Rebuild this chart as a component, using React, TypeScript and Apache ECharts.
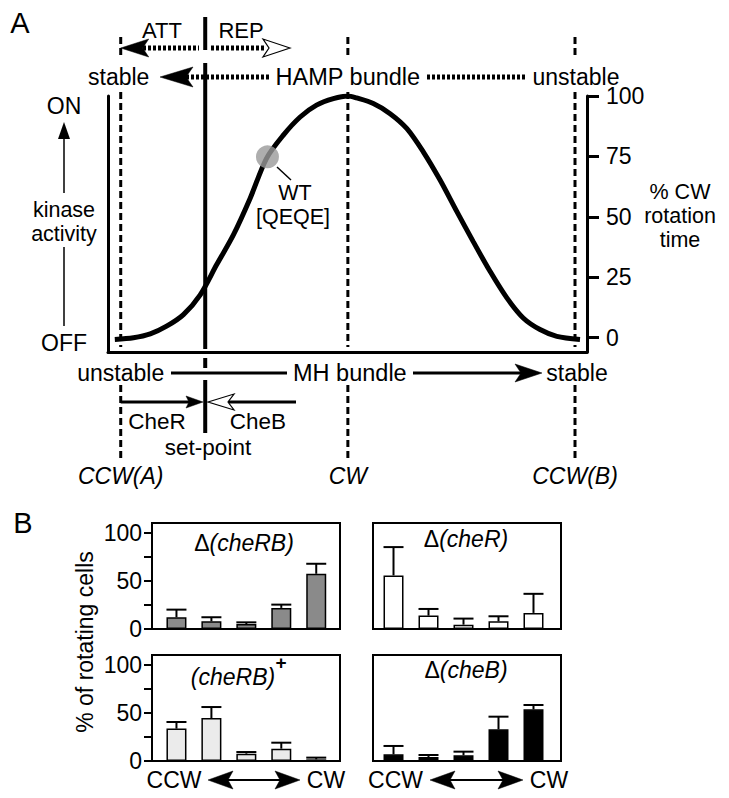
import React, { useEffect, useRef } from "react";
import * as echarts from "echarts";

const FONT = "'Liberation Sans', Arial, Helvetica, sans-serif";

// ---------- Panel A data ----------
const curveX = [-1.3, 2.8, 6.5, 10.1, 13.8, 17.5, 21.1, 24.8, 28.5, 32.1, 35.8, 39.5, 43.1, 46.8, 50, 51.9, 55.6, 59.3, 63.0, 66.6, 70.3, 74.0, 77.6, 81.3, 85.0, 88.6, 92.3, 96.0, 101.1];
const curveY = [-0.8, -0.1, 1.5, 4.7, 9.5, 17.7, 30.1, 42.5, 57.7, 74.2, 83.8, 91.3, 96.2, 98.9, 100, 99.2, 96.9, 92.7, 86.5, 76.9, 65.2, 52.1, 39.7, 27.4, 16.4, 8.1, 3.3, 0.5, -0.8];
const wtPoint = [32.3, 74.8];
const ccwAX = 0;
const cwX = 50;
const ccwBX = 100;
const setPointX = 18.6;
const rightTickValues = [0, 25, 50, 75, 100];

// ---------- Panel B data ----------
const barPositions = [1, 2, 3, 4, 5];
const cheRBMeans = [12.2, 8.0, 5.2, 21.9, 57.3];
const cheRBErrs = [7.9, 4.2, 1.7, 3.4, 10.4];
const cheRMeans = [55.6, 13.9, 4.5, 8.0, 16.7];
const cheRErrs = [29.4, 6.9, 6.3, 5.2, 19.8];
const cheRBPlusMeans = [33.6, 44.6, 7.6, 12.8, 1.7];
const cheRBPlusErrs = [6.9, 11.4, 1.7, 6.2, 1.8];
const cheBMeans = [6.9, 4.2, 5.9, 32.9, 53.6];
const cheBErrs = [8.7, 2.0, 3.8, 13.1, 4.5];
const bLabelValues = [0, 50, 100];
const bTickValues = [0, 25, 50, 75, 100];

export default function App() {
  const ref = useRef<HTMLDivElement>(null);

  useEffect(() => {
    if (!ref.current) return;
    const chart = echarts.init(ref.current, undefined, { renderer: "svg" });

    const panels = [
      { left: 152, top: 523, means: cheRBMeans, errs: cheRBErrs, color: "#8a8a8a", axis: true, xMin: 0.3, xMax: 5.68 },
      { left: 373, top: 523, means: cheRMeans, errs: cheRErrs, color: "#ffffff", axis: false, xMin: 0.414, xMax: 5.786 },
      { left: 152, top: 655, means: cheRBPlusMeans, errs: cheRBPlusErrs, color: "#ebebeb", axis: true, xMin: 0.3, xMax: 5.68 },
      { left: 373, top: 655, means: cheBMeans, errs: cheBErrs, color: "#000000", axis: false, xMin: 0.414, xMax: 5.786 },
    ];

    const grids: any[] = [{ left: 108, top: 96, width: 479, height: 256 }];
    const xAxes: any[] = [
      {
        gridIndex: 0, type: "value", min: -2.8, max: 102.64,
        axisLine: { show: true, onZero: false, lineStyle: { color: "#000", width: 3 } },
        axisTick: { show: false }, axisLabel: { show: false }, splitLine: { show: false },
      },
    ];
    const yAxes: any[] = [
      {
        gridIndex: 0, type: "value", min: -6, max: 100, position: "left",
        axisLine: { show: true, onZero: false, lineStyle: { color: "#000", width: 3 } },
        axisTick: { show: false }, axisLabel: { show: false }, splitLine: { show: false },
      },
      {
        gridIndex: 0, type: "value", min: -6, max: 100, position: "right",
        axisLine: { show: true, onZero: false, lineStyle: { color: "#000", width: 3 } },
        axisTick: { show: true, length: 12, lineStyle: { color: "#000", width: 3 }, customValues: rightTickValues },
        axisLabel: { show: true, customValues: rightTickValues, color: "#000", fontSize: 23, fontFamily: FONT, margin: 19 },
        splitLine: { show: false },
      },
    ];
    const series: any[] = [
      {
        type: "line", xAxisIndex: 0, yAxisIndex: 0, smooth: 0.3, showSymbol: false, symbol: "none",
        data: curveX.map((x, i) => [x, curveY[i]]),
        lineStyle: { color: "#000", width: 5 }, z: 3,
      },
      {
        type: "scatter", xAxisIndex: 0, yAxisIndex: 0, data: [wtPoint], symbolSize: 23,
        itemStyle: { color: "#9a9a9a" }, z: 4,
      },
    ];

    panels.forEach((p, k) => {
      const gi = k + 1;
      const xi = k + 1;
      const yi = k + 2;
      grids.push({ left: p.left, top: p.top, width: 188, height: 106, show: true, borderColor: "#000", borderWidth: 2, backgroundColor: "transparent" });
      xAxes.push({ gridIndex: gi, type: "value", min: p.xMin, max: p.xMax, show: false });
      yAxes.push({
        gridIndex: gi, type: "value", min: 0, max: 110, show: p.axis,
        axisLine: { show: true, onZero: false, lineStyle: { color: "#000", width: 2 } },
        axisTick: { show: true, length: 8, lineStyle: { color: "#000", width: 2 }, customValues: bTickValues },
        axisLabel: { show: true, customValues: bLabelValues, color: "#000", fontSize: 23, fontFamily: FONT, margin: 10 },
        splitLine: { show: false },
      });
      series.push({
        type: "bar", xAxisIndex: xi, yAxisIndex: yi, barWidth: 20,
        data: barPositions.map((x, i) => [x, p.means[i]]),
        itemStyle: { color: p.color, borderColor: "#000", borderWidth: 1.5 },
        z: 2,
      });
      series.push({
        type: "custom", xAxisIndex: xi, yAxisIndex: yi, coordinateSystem: "cartesian2d",
        data: barPositions.map((x, i) => [x, p.means[i], p.errs[i]]),
        encode: { x: 0, y: 1 },
        z: 3,
        renderItem: (params: any, api: any) => {
          const x = api.value(0), v = api.value(1), e = api.value(2);
          const p0 = api.coord([x, v]);
          const p1 = api.coord([x, v + e]);
          return {
            type: "group",
            children: [
              { type: "line", shape: { x1: p0[0], y1: p0[1], x2: p1[0], y2: p1[1] }, style: { stroke: "#000", lineWidth: 2 } },
              { type: "line", shape: { x1: p1[0] - 10, y1: p1[1], x2: p1[0] + 10, y2: p1[1] }, style: { stroke: "#000", lineWidth: 2 } },
            ],
          };
        },
      });
    });

    chart.setOption({
      animation: false,
      backgroundColor: "#ffffff",
      grid: grids,
      xAxis: xAxes,
      yAxis: yAxes,
      series,
    });

    const X = (v: number) => chart.convertToPixel({ xAxisIndex: 0 } as any, v) as unknown as number;
    const xA = X(ccwAX), xCW = X(cwX), xB = X(ccwBX), xSP = X(setPointX);

    const txt = (text: string, x: number, y: number, size = 23, extra: any = {}) => ({
      type: "text", silent: true, z: 100,
      style: {
        text, x, y, fill: "#000", fontSize: size, fontFamily: FONT,
        align: "center", verticalAlign: "middle", textAlign: "center", textVerticalAlign: "middle", ...extra,
      },
    });
    const ln = (x1: number, y1: number, x2: number, y2: number, w: number, dash?: number[]) => ({
      type: "line", silent: true, z: 50,
      shape: { x1, y1, x2, y2 },
      style: { stroke: "#000", lineWidth: w, lineDash: dash },
    });
    const head = (tx: number, ty: number, dir: number, L: number, h: number, notch: number, hollow = false) => ({
      type: "polygon", silent: true, z: 60,
      shape: { points: [[tx, ty], [tx - dir * L, ty - h], [tx - dir * (L - notch), ty], [tx - dir * L, ty + h]] },
      style: { fill: hollow ? "#fff" : "#000", stroke: "#000", lineWidth: hollow ? 1.2 : 0.5 },
    });
    const vhead = (tx: number, ty: number, L: number, h: number) => ({
      type: "polygon", silent: true, z: 60,
      shape: { points: [[tx, ty], [tx - h, ty + L], [tx + h, ty + L]] },
      style: { fill: "#000" },
    });

    const dotted = [3, 2];
    const dashed = [7, 4];
    const g: any[] = [];
    const MS = 21.5; // stacked-label font size

    // Panel A
    g.push(txt("A", 20, 23, 29));
    g.push(txt("ATT", 162, 30, 22), txt("REP", 241, 30, 22));
    g.push(ln(143, 48, 199, 48, 5, dotted), ln(211, 48, 266, 48, 5, dotted));
    g.push(head(xA, 48, -1, 28, 9, 6), head(290, 48, 1, 27, 9, 6, true));
    g.push(txt("stable", xA - 2, 77), txt("HAMP bundle", xCW, 77, 23.5), txt("unstable", xB + 1, 77));
    g.push(ln(186, 77, 270, 77, 5, dotted), ln(427, 77, 525, 77, 5, dotted));
    g.push(head(160, 77, -1, 33, 10, 7));
    [xA, xCW, xB].forEach((x) => {
      g.push(ln(x, 37, x, 57, 3, dashed), ln(x, 92, x, 347, 3, dashed), ln(x, 385, x, 458, 3, dashed));
    });
    g.push(ln(xSP, 17, xSP, 50, 4), ln(xSP, 63, xSP, 349, 4), ln(xSP, 358, xSP, 368, 4), ln(xSP, 380, xSP, 433, 4));
    g.push(txt("ON", 64, 106), vhead(64, 122, 17, 6), ln(64, 139, 64, 193, 1.5));
    g.push(txt("kinase", 64, 209.5, MS), txt("activity", 64, 233.5, MS));
    g.push(ln(64, 247, 64, 326, 1.5), txt("OFF", 64, 343));
    g.push(ln(277, 167, 291, 180, 1.5), txt("WT", 295, 193, MS), txt("[QEQE]", 293, 217, MS));
    g.push(txt("% CW", 680, 192, MS), txt("rotation", 680, 216, MS), txt("time", 680, 240, MS));
    g.push(txt("unstable", xA, 373), ln(171, 373, 287, 373, 3), txt("MH bundle", xCW + 2, 373, 23.5));
    g.push(ln(413, 373, 522, 373, 3), head(542, 373, 1, 27, 9, 6), txt("stable", xB + 2, 373));
    g.push(ln(xA, 402, 190, 402, 3), head(203, 402, 1, 17, 6, 3));
    g.push(ln(228, 402, 296, 402, 3), head(208, 402, -1, 26, 8, 6, true));
    g.push(txt("CheR", 157, 421, 22.5), txt("CheB", 258, 421, 22.5), txt("set-point", 208, 447, 22.5));
    g.push(
      txt("CCW(A)", xA, 476, 23, { fontStyle: "italic" }),
      txt("CW", xCW, 476, 23, { fontStyle: "italic" }),
      txt("CCW(B)", xB, 476, 23, { fontStyle: "italic" })
    );

    // Panel B
    g.push(txt("B", 23, 523, 29));
    g.push({
      type: "text", silent: true, z: 100, x: 85, y: 642, rotation: Math.PI / 2,
      style: { text: "% of rotating cells", x: 0, y: 0, fill: "#000", fontSize: 23, fontFamily: FONT, align: "center", verticalAlign: "middle", textAlign: "center", textVerticalAlign: "middle" },
    });
    const rich = { n: { fontSize: 23, fontFamily: FONT, fill: "#000" }, i: { fontSize: 23, fontFamily: FONT, fontStyle: "italic", fill: "#000" } };
    g.push(txt("{n|Δ}{i|(cheRB)}", 244, 543, 23, { rich }));
    g.push(txt("{n|Δ}{i|(cheR)}", 466, 539, 23, { rich }));
    g.push(txt("(cheRB)", 233, 677, 23, { fontStyle: "italic" }), txt("+", 281, 662, 19, { fontWeight: "bold" }));
    g.push(txt("{n|Δ}{i|(cheB)}", 466, 670, 23, { rich }));
    const dbl = (x1: number, x2: number, y: number) => [
      ln(x1 + 20, y, x2 - 20, y, 2),
      head(x1, y, -1, 25, 9, 5),
      head(x2, y, 1, 25, 9, 5),
    ];
    g.push(txt("CCW", 174, 780), ...dbl(208, 300, 780), txt("CW", 326, 780));
    g.push(txt("CCW", 395.5, 780), ...dbl(430, 523, 780), txt("CW", 549, 780));

    chart.setOption({ graphic: g });

    return () => chart.dispose();
  }, []);

  return (
    <div
      ref={ref}
      style={{ position: "fixed", left: 0, top: 0, width: 729, height: 798, background: "#fff" }}
    />
  );
}
